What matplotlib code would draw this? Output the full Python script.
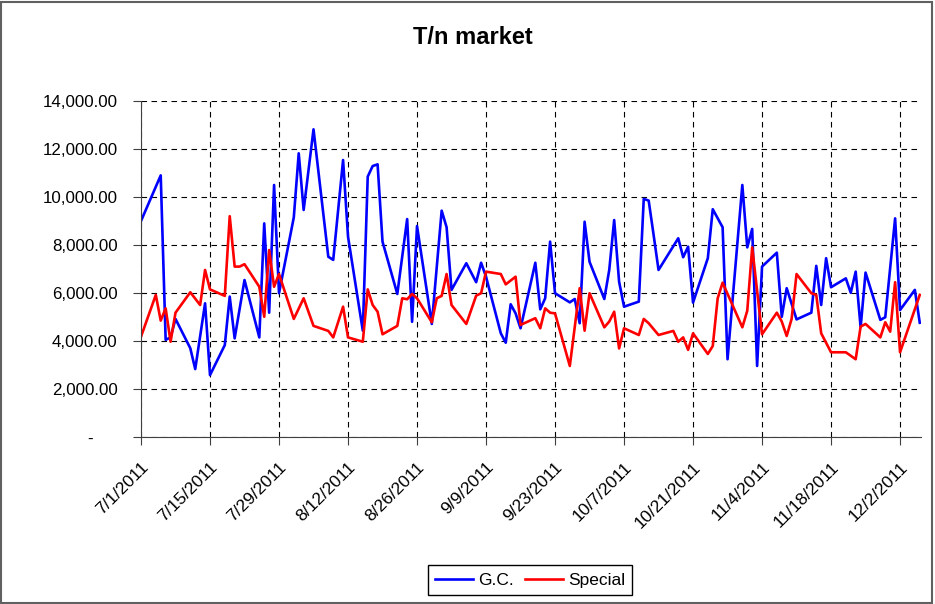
import pandas as pd
import matplotlib
matplotlib.use('Agg')
import matplotlib.pyplot as plt
from matplotlib.ticker import FuncFormatter
from matplotlib.patches import Rectangle

plt.rcParams['font.family'] = ['Liberation Sans', 'DejaVu Sans']

# G.C. series (date, value)
gc_dates = ['7/1', '7/5', '7/6', '7/7', '7/8', '7/11', '7/12', '7/14', '7/15', '7/18',
            '7/19', '7/20', '7/22', '7/25', '7/26', '7/27', '7/28', '7/29', '8/1', '8/2',
            '8/3', '8/5', '8/8', '8/9', '8/11', '8/12', '8/15', '8/16', '8/17', '8/18',
            '8/19', '8/22', '8/24', '8/25', '8/26', '8/29', '8/31', '9/1', '9/2', '9/5',
            '9/7', '9/8', '9/9', '9/12', '9/13', '9/14', '9/15', '9/16', '9/19', '9/20',
            '9/21', '9/22', '9/23', '9/26', '9/27', '9/28', '9/29', '9/30', '10/3', '10/4',
            '10/5', '10/6', '10/7', '10/10', '10/11', '10/12', '10/13', '10/14', '10/18', '10/19',
            '10/20', '10/21', '10/24', '10/25', '10/27', '10/28', '10/31', '11/1', '11/2', '11/3',
            '11/4', '11/7', '11/8', '11/9', '11/11', '11/14', '11/15', '11/16', '11/17', '11/18',
            '11/21', '11/22', '11/23', '11/24', '11/25', '11/28', '11/29', '12/1', '12/2', '12/5',
            '12/6']
gc_values = [9000, 10900, 4050, 4150, 4920, 3700, 2830, 5570, 2580, 3830,
             5850, 4110, 6540, 4150, 8900, 5180, 10500, 5990, 9150, 11820,
             9460, 12820, 7510, 7380, 11540, 8350, 4430, 10850, 11290, 11360,
             8140, 5960, 9080, 4800, 8790, 4710, 9430, 8740, 6130, 7240,
             6450, 7260, 6680, 4320, 3930, 5530, 5150, 4530, 7260, 5320,
             5780, 8140, 5990, 5610, 5750, 4740, 8970, 7300, 5750, 6960,
             9040, 6470, 5430, 5640, 9920, 9850, 8420, 6960, 8280, 7490,
             7930, 5600, 7450, 9490, 8740, 3240, 10500, 7900, 8670, 2960,
             7100, 7680, 5010, 6200, 4900, 5180, 7130, 5500, 7450, 6240,
             6610, 6010, 6890, 4570, 6850, 4880, 4990, 9110, 5290, 6130,
             4760]

# Special series
sp_dates = ['7/1', '7/4', '7/5', '7/6', '7/7', '7/8', '7/11', '7/13', '7/14', '7/15',
            '7/18', '7/19', '7/20', '7/21', '7/22', '7/25', '7/26', '7/27', '7/28', '7/29',
            '8/1', '8/3', '8/5', '8/8', '8/9', '8/11', '8/12', '8/15', '8/16', '8/17',
            '8/18', '8/19', '8/22', '8/23', '8/24', '8/25', '8/26', '8/29', '8/30', '8/31',
            '9/1', '9/2', '9/5', '9/7', '9/8', '9/9', '9/12', '9/13', '9/15', '9/16',
            '9/19', '9/20', '9/21', '9/22', '9/23', '9/26', '9/28', '9/29', '9/30', '10/3',
            '10/4', '10/5', '10/6', '10/7', '10/10', '10/11', '10/12', '10/14', '10/17', '10/18',
            '10/19', '10/20', '10/21', '10/24', '10/25', '10/26', '10/27', '10/31', '11/1', '11/2',
            '11/4', '11/7', '11/8', '11/9', '11/10', '11/11', '11/14', '11/15', '11/16', '11/18',
            '11/21', '11/23', '11/24', '11/25', '11/28', '11/29', '11/30', '12/1', '12/2', '12/6']
sp_values = [4180, 5920, 4850, 5360, 3970, 5180, 6030, 5500, 6960, 6150,
             5880, 9200, 7100, 7100, 7200, 6260, 5010, 7790, 6260, 6790,
             4920, 5780, 4630, 4420, 4150, 5430, 4150, 3970, 6150, 5500,
             5220, 4280, 4630, 5780, 5740, 5960, 5780, 4780, 5780, 5880,
             6790, 5500, 4710, 5890, 5990, 6890, 6790, 6360, 6680, 4670,
             4950, 4530, 5360, 5180, 5150, 2960, 6200, 4430, 5990, 4570,
             4810, 5220, 3690, 4530, 4250, 4920, 4740, 4250, 4420, 3970,
             4150, 3630, 4320, 3460, 3790, 5780, 6430, 4570, 5260, 7900,
             4280, 5180, 4810, 4210, 4920, 6790, 5990, 5920, 4320, 3530,
             3530, 3240, 4600, 4710, 4150, 4780, 4390, 6450, 3530, 5920]

tick_dates = ['7/1', '7/15', '7/29', '8/12', '8/26', '9/9', '9/23', '10/7',
              '10/21', '11/4', '11/18', '12/2']


def to_dt(lst):
    return pd.to_datetime([d + '/2011' for d in lst], format='%m/%d/%Y')


fig = plt.figure(figsize=(9.35, 6.04), dpi=100)
ax = fig.add_axes([141 / 935, 1 - 437 / 604, 780 / 935, 336 / 604])

ax.plot(to_dt(gc_dates), gc_values, color='#0000ff', lw=1.9, label='G.C.')
ax.plot(to_dt(sp_dates), sp_values, color='#ff0000', lw=1.9, label='Special')

ax.set_ylim(0, 14000)
ax.set_yticks(range(0, 14001, 2000))
ax.yaxis.set_major_formatter(FuncFormatter(
    lambda v, p: '-     ' if v == 0 else f'{v:,.2f}'))
ax.set_xlim(pd.Timestamp('2011-07-01'), pd.Timestamp('2011-12-06 06:00'))
ticks = to_dt(tick_dates)
ax.set_xticks(ticks)
ax.set_xticklabels([f'{t.month}/{t.day}/{t.year}' for t in ticks],
                   rotation=45, ha='right', rotation_mode='anchor')

ax.grid(True, color='black', linestyle=(0, (5, 4)), linewidth=0.8)
ax.set_axisbelow(True)
for s in ['top', 'right']:
    ax.spines[s].set_visible(False)
for s in ['left', 'bottom']:
    ax.spines[s].set_color('#404040')
ax.tick_params(axis='both', labelsize=12.5, length=6, color='#404040')
ax.tick_params(axis='y', pad=11, labelsize=12.2)
ax.tick_params(axis='x', pad=10)

fig.text(473 / 935, 1 - 38 / 604, 'T/n market', fontsize=17, fontweight='bold',
         ha='center', va='center')

fig.legend(loc='center', bbox_to_anchor=(530 / 935, 1 - 580 / 604), ncol=2,
           fontsize=12.5, frameon=True, fancybox=False, edgecolor='black',
           handlelength=2.2, handletextpad=0.3, columnspacing=0.6,
           borderpad=0.4, framealpha=1)

fig.patches.append(Rectangle((0.001, 0.002), 0.996, 0.995, transform=fig.transFigure,
                             fill=False, edgecolor='#606060', lw=1.5))

fig.savefig('out.png', dpi=100)
